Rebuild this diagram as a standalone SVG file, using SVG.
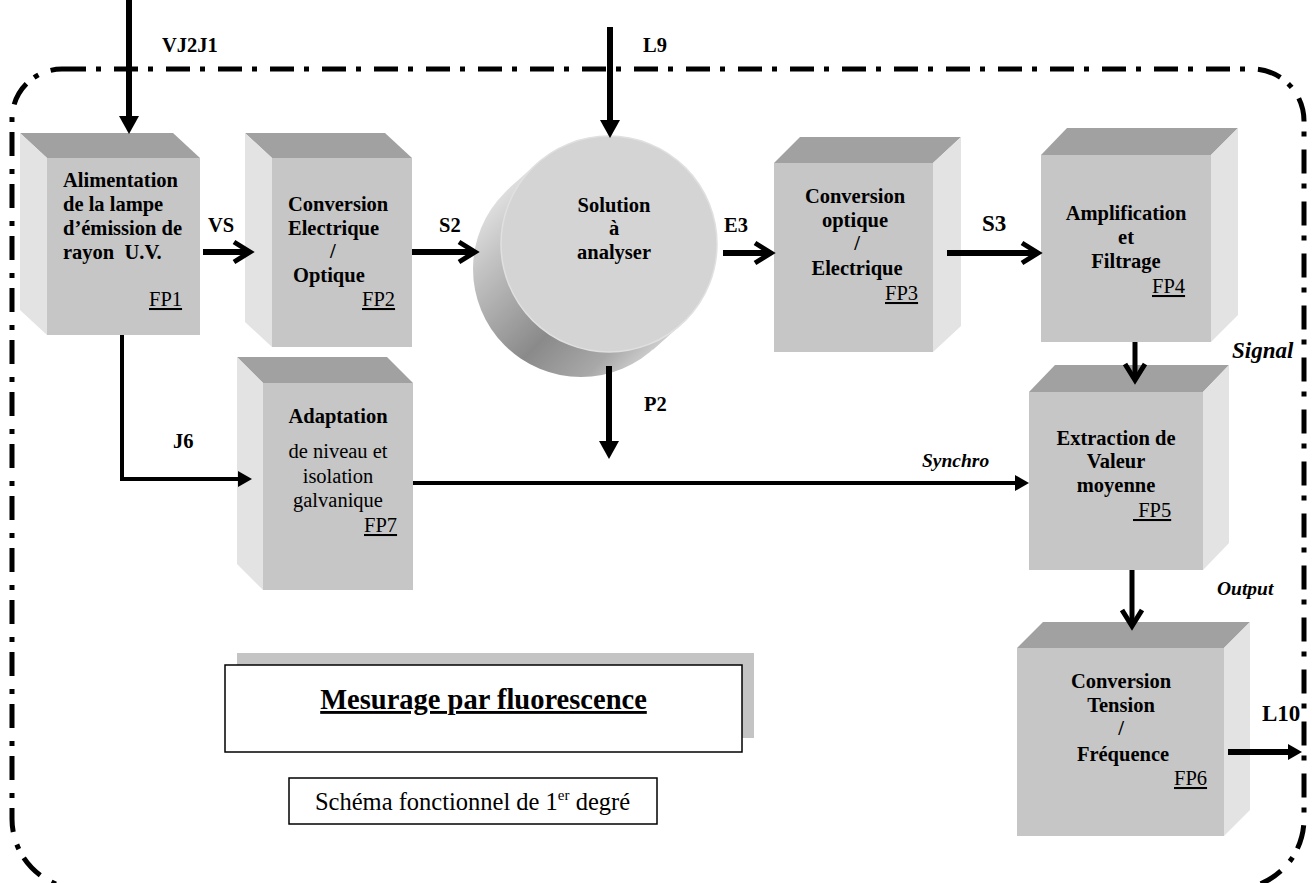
<svg xmlns="http://www.w3.org/2000/svg" width="1313" height="883" viewBox="0 0 1313 883">
<style>
.t{font-family:"Liberation Serif","Times New Roman",serif;fill:#000}
.b{font-weight:bold;font-size:20.5px}
.r{font-size:20.5px}
.bi{font-weight:bold;font-style:italic}
.u{text-decoration:underline}
.c{text-anchor:middle}
.front{fill:#c6c6c6}
.top{fill:#a1a1a1}
.side{fill:#e3e3e3}
.ln{stroke:#000;fill:none;stroke-width:6}
.ln4{stroke:#000;fill:none;stroke-width:4}
.border{fill:none;stroke:#000;stroke-width:5;stroke-dasharray:24 10 5 13}
</style>
<defs>
<marker id="tri" markerUnits="userSpaceOnUse" markerWidth="20" markerHeight="20" viewBox="0 0 18 20" refX="1" refY="10" orient="auto" overflow="visible">
<path d="M0,0 L18,10 L0,20 Z" fill="#000"/>
</marker>
<marker id="triS" markerUnits="userSpaceOnUse" markerWidth="15" markerHeight="16" viewBox="0 0 14 16" refX="1" refY="8" orient="auto" overflow="visible">
<path d="M0,0 L14,8 L0,16 Z" fill="#000"/>
</marker>
<marker id="chev" markerUnits="userSpaceOnUse" markerWidth="20" markerHeight="22" viewBox="0 0 20 22" refX="17" refY="11" orient="auto" overflow="visible">
<path d="M1,1 L17,11 L1,21" fill="none" stroke="#000" stroke-width="5" stroke-linejoin="miter"/>
</marker>
<linearGradient id="disk" gradientUnits="userSpaceOnUse" x1="345" y1="345" x2="505" y2="505">
<stop offset="0" stop-color="#e2e2e2"/>
<stop offset="0.2" stop-color="#c2c2c2"/>
<stop offset="0.6" stop-color="#8a8a8a"/>
<stop offset="0.85" stop-color="#a8a8a8"/>
<stop offset="1" stop-color="#d2d2d2"/>
</linearGradient>
</defs>
<rect width="1313" height="883" fill="#fff"/>

<path class="border" d="M62,69 H1252 A52 52 0 0 1 1304,121 V819 A70 70 0 0 1 1234,889 H82 A70 70 0 0 1 12,819 V119 A50 50 0 0 1 62,69 Z"/>

<g id="FP1">
<polygon class="top" points="20,133 173,133 200,158 47,158"/>
<polygon class="side" points="20,133 47,158 47,335 20,310"/>
<rect class="front" x="47" y="158" width="153" height="177"/>
<text class="t b" x="63" y="187">Alimentation</text>
<text class="t b" x="63" y="211">de la lampe</text>
<text class="t b" x="63" y="235">d’émission de</text>
<text class="t b" x="63" y="259" xml:space="preserve">rayon  U.V.</text>
<text class="t r u" x="149" y="306">FP1</text>
</g>

<g id="FP2">
<polygon class="top" points="245,133 385,133 412,158 272,158"/>
<polygon class="side" points="245,133 272,158 272,347 245,322"/>
<rect class="front" x="272" y="158" width="140" height="189"/>
<text class="t b" x="288" y="211">Conversion</text>
<text class="t b" x="288" y="235">Electrique</text>
<text class="t b" x="330" y="258">/</text>
<text class="t b" x="293" y="282">Optique</text>
<text class="t r u" x="362" y="306">FP2</text>
</g>

<g id="SOL">
<polygon points="537,163.3 509,188.3 653,349.7 681,324.7" fill="url(#disk)"/>
<circle cx="581" cy="269" r="108" fill="url(#disk)"/>
<circle cx="609" cy="244" r="108" fill="#d4d4d4" stroke="#e0e0e0" stroke-width="1.5"/>
<text class="t b c" x="614" y="212">Solution</text>
<text class="t b c" x="614" y="235">à</text>
<text class="t b c" x="614" y="259">analyser</text>
</g>

<g id="FP3">
<polygon class="top" points="774,163 800,137 961,137 933,163"/>
<polygon class="side" points="933,163 961,137 961,326 933,352"/>
<rect class="front" x="774" y="163" width="159" height="189"/>
<text class="t b c" x="855" y="203">Conversion</text>
<text class="t b c" x="855" y="227">optique</text>
<text class="t b c" x="857" y="250">/</text>
<text class="t b c" x="857" y="275">Electrique</text>
<text class="t r u" x="885" y="300">FP3</text>
</g>

<g id="FP4">
<polygon class="top" points="1041,155 1067,128 1238,128 1211,155"/>
<polygon class="side" points="1211,155 1238,128 1238,315 1211,342"/>
<rect class="front" x="1041" y="155" width="170" height="187"/>
<text class="t b c" x="1126" y="220">Amplification</text>
<text class="t b c" x="1126" y="244">et</text>
<text class="t b c" x="1126" y="268">Filtrage</text>
<text class="t r u" x="1152" y="293">FP4</text>
</g>

<g id="FP5">
<polygon class="top" points="1029,392 1055,365 1229,365 1203,392"/>
<polygon class="side" points="1203,392 1229,365 1229,543 1203,570"/>
<rect class="front" x="1029" y="392" width="174" height="178"/>
<text class="t b c" x="1116" y="445">Extraction de</text>
<text class="t b c" x="1116" y="468">Valeur</text>
<text class="t b c" x="1116" y="492">moyenne</text>
<text class="t r u" x="1133" y="517" xml:space="preserve"> FP5</text>
</g>

<g id="FP6">
<polygon class="top" points="1017,648 1043,622 1250,622 1224,648"/>
<polygon class="side" points="1224,648 1250,622 1250,810 1224,836"/>
<rect class="front" x="1017" y="648" width="207" height="188"/>
<text class="t b c" x="1121" y="688">Conversion</text>
<text class="t b c" x="1121" y="712">Tension</text>
<text class="t b c" x="1121" y="735">/</text>
<text class="t b c" x="1123" y="761">Fréquence</text>
<text class="t r u" x="1174" y="785">FP6</text>
</g>

<g id="FP7">
<polygon class="top" points="237,357 387,357 413,383 263,383"/>
<polygon class="side" points="237,357 263,383 263,590 237,564"/>
<rect class="front" x="263" y="383" width="150" height="207"/>
<text class="t b c" x="338" y="423">Adaptation</text>
<text class="t r c" x="338" y="458">de niveau et</text>
<text class="t r c" x="338" y="483">isolation</text>
<text class="t r c" x="338" y="507">galvanique</text>
<text class="t r u" x="364" y="532">FP7</text>
</g>

<g id="TITLE">
<rect x="237" y="653" width="517" height="85" fill="#c4c4c4"/>
<rect x="225" y="665" width="517" height="87" fill="#fff" stroke="#000" stroke-width="1.5"/>
<text class="t u c" x="483.5" y="709" style="font-weight:bold;font-size:28.5px">Mesurage par fluorescence</text>
</g>

<g id="SUBTITLE">
<rect x="289" y="778" width="368" height="46" fill="#fff" stroke="#000" stroke-width="1.5"/>
<text class="t c" x="472.5" y="810" style="font-size:24.5px">Schéma fonctionnel de 1<tspan style="font-size:15px" dy="-10">er</tspan><tspan dy="10"> degré</tspan></text>
</g>

<g id="connectors">
<line class="ln" x1="129" y1="0" x2="129" y2="117" marker-end="url(#tri)"/>
<line class="ln" x1="610" y1="27" x2="610" y2="121" marker-end="url(#tri)"/>
<line class="ln" x1="203" y1="252" x2="250" y2="252" marker-end="url(#chev)"/>
<line class="ln" x1="412" y1="252" x2="475" y2="252" marker-end="url(#chev)"/>
<line class="ln" x1="723" y1="253" x2="771" y2="253" marker-end="url(#chev)"/>
<line class="ln" x1="947" y1="253" x2="1038" y2="253" marker-end="url(#chev)"/>
<line class="ln" x1="1135" y1="342" x2="1135" y2="380" marker-end="url(#chev)" style="stroke-width:5"/>
<line class="ln" x1="1132" y1="570" x2="1132" y2="626" marker-end="url(#chev)" style="stroke-width:5"/>
<line class="ln" x1="609" y1="366" x2="609" y2="442" marker-end="url(#tri)"/>
<path class="ln4" d="M122,335 V479 H239" marker-end="url(#triS)"/>
<line class="ln4" x1="413" y1="483" x2="1016" y2="483" marker-end="url(#triS)"/>
<line class="ln" x1="1228" y1="752" x2="1289" y2="752" marker-end="url(#triS)"/>
</g>

<g id="labels">
<text class="t b" x="162" y="52">VJ2J1</text>
<text class="t b" x="643" y="52">L9</text>
<text class="t b" x="208" y="232">VS</text>
<text class="t b" x="439" y="232">S2</text>
<text class="t b" x="724" y="232">E3</text>
<text class="t" x="982" y="231" style="font-weight:bold;font-size:23px">S3</text>
<text class="t b" x="173" y="448">J6</text>
<text class="t b" x="644" y="411">P2</text>
<text class="t bi" x="922" y="467" style="font-size:19.5px">Synchro</text>
<text class="t bi" x="1232" y="358" style="font-size:23px">Signal</text>
<text class="t bi" x="1217" y="595" style="font-size:19.5px">Output</text>
<text class="t" x="1262" y="721" style="font-weight:bold;font-size:23px">L10</text>
</g>
</svg>
